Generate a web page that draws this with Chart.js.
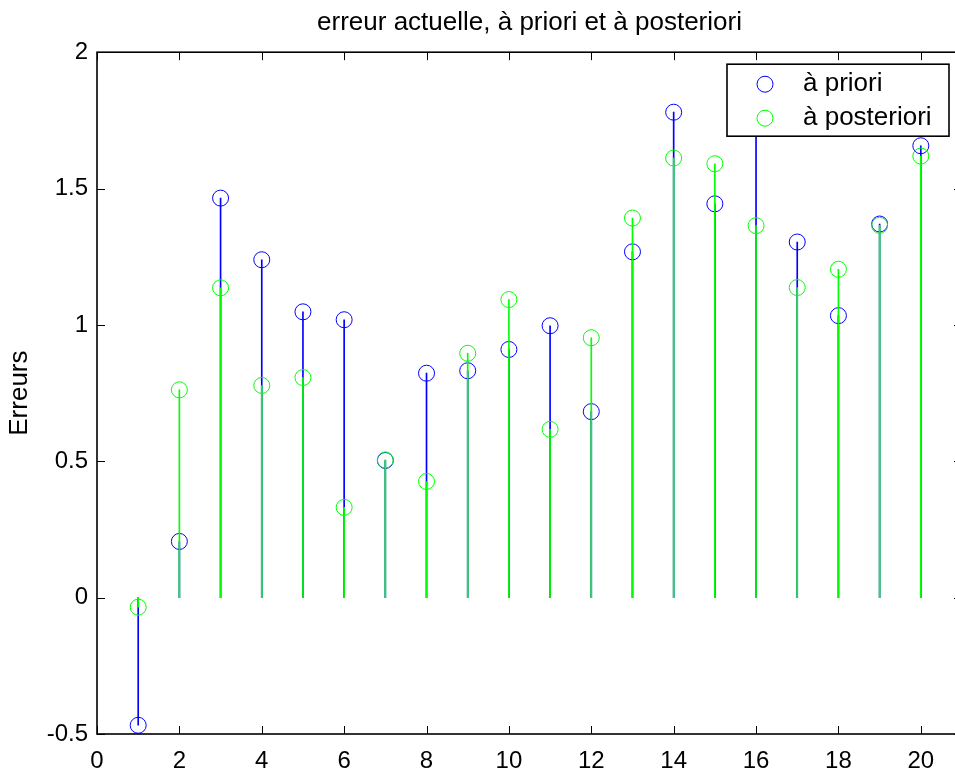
<!DOCTYPE html>
<html lang="fr">
<head>
<meta charset="utf-8">
<title>erreur actuelle, à priori et à posteriori</title>
<script src="https://cdn.jsdelivr.net/npm/chart.js@4.4.1/dist/chart.umd.min.js"></script>
<style>
    html, body { margin: 0; padding: 0; background: #fff; overflow: hidden; }
    canvas { display: block; }
</style>
</head>
<body>
<canvas id="stemChart" width="962" height="769"></canvas>
<script>
// Données
const iterations = [1, 2, 3, 4, 5, 6, 7, 8, 9, 10, 11, 12, 13, 14, 15, 16, 17, 18, 19, 20];
const erreursPriori = [-0.468, 0.206, 1.465, 1.239, 1.048, 1.019, 0.503, 0.823, 0.832, 0.910,
    0.997, 0.682, 1.268, 1.780, 1.444, 1.90, 1.304, 1.034, 1.370, 1.657];
const erreursPosteriori = [-0.035, 0.762, 1.136, 0.778, 0.807, 0.331, 0.505, 0.426, 0.896, 1.093,
    0.617, 0.953, 1.392, 1.612, 1.591, 1.364, 1.137, 1.204, 1.365, 1.619];
const xTicks = [0, 2, 4, 6, 8, 10, 12, 14, 16, 18, 20];
const yTicks = [-0.5, 0, 0.5, 1, 1.5, 2];

const titre = 'erreur actuelle, à priori et à posteriori';
const labelY = 'Erreurs';
const legendeLabels = ['à priori', 'à posteriori'];

const bleu = 'rgb(0, 0, 255)';
const vert = 'rgb(0, 255, 0)';
const police = '"Liberation Sans", Arial, Helvetica, sans-serif';

function points(values) {
    return iterations.map((x, i) => ({ x: x, y: values[i] }));
}

// Cadre, graduations intérieures et légende (par-dessus les données)
const cadrePlugin = {
    id: 'cadre',
    afterDatasetsDraw(chart) {
        const { ctx, chartArea: a, scales } = chart;
        ctx.save();
        ctx.strokeStyle = '#000';
        ctx.lineWidth = 1;
        ctx.beginPath();
        xTicks.forEach(v => {
            const px = Math.round(scales.x.getPixelForValue(v)) + 0.5;
            ctx.moveTo(px, a.bottom); ctx.lineTo(px, a.bottom - 8);
            ctx.moveTo(px, a.top); ctx.lineTo(px, a.top + 8);
        });
        yTicks.forEach(v => {
            const py = Math.round(scales.y.getPixelForValue(v)) + 0.5;
            ctx.moveTo(a.left, py); ctx.lineTo(a.left + 8, py);
            ctx.moveTo(a.right, py); ctx.lineTo(a.right - 8, py);
        });
        ctx.stroke();
        ctx.lineWidth = 1.6;
        ctx.strokeRect(a.left, a.top, a.right - a.left, a.bottom - a.top);

        // Légende
        const lx = a.right - 235, ly = a.top + 12, lw = 222, lh = 72;
        ctx.fillStyle = '#fff';
        ctx.fillRect(lx, ly, lw, lh);
        ctx.lineWidth = 1.6;
        ctx.strokeRect(lx, ly, lw, lh);
        const couleurs = [bleu, vert];
        ctx.font = '26px ' + police;
        ctx.textBaseline = 'middle';
        legendeLabels.forEach((txt, i) => {
            const cy = ly + 20 + i * 34;
            ctx.beginPath();
            ctx.strokeStyle = couleurs[i];
            ctx.lineWidth = 1;
            ctx.arc(lx + 38, cy, 8, 0, Math.PI * 2);
            ctx.stroke();
            ctx.fillStyle = '#000';
            ctx.fillText(txt, lx + 76, cy);
        });
        ctx.restore();
    }
};

new Chart(document.getElementById('stemChart'), {
    type: 'bar',
    data: {
        datasets: [
            {
                type: 'bar',
                label: 'tiges ' + legendeLabels[0],
                data: points(erreursPriori),
                backgroundColor: bleu,
                borderWidth: 0,
                barThickness: 1,
                grouped: false,
                order: 3
            },
            {
                type: 'scatter',
                label: legendeLabels[0],
                data: points(erreursPriori),
                borderColor: bleu,
                backgroundColor: 'rgba(0,0,0,0)',
                pointRadius: 8,
                pointBorderWidth: 1,
                order: 2
            },
            {
                type: 'bar',
                label: 'tiges ' + legendeLabels[1],
                data: points(erreursPosteriori),
                backgroundColor: vert,
                borderWidth: 0,
                barThickness: 1,
                grouped: false,
                order: 1
            },
            {
                type: 'scatter',
                label: legendeLabels[1],
                data: points(erreursPosteriori),
                borderColor: vert,
                backgroundColor: 'rgba(0,0,0,0)',
                pointRadius: 8,
                pointBorderWidth: 1,
                order: 0
            }
        ]
    },
    options: {
        responsive: false,
        animation: false,
        devicePixelRatio: 1,
        layout: { autoPadding: false, padding: 0 },
        plugins: {
            legend: { display: false },
            tooltip: { enabled: false },
            title: {
                display: true,
                fullSize: false,
                text: titre,
                color: '#000',
                font: { family: police, size: 26, weight: 'normal', lineHeight: 1.2 },
                padding: { top: 7, bottom: 14 }
            }
        },
        scales: {
            x: {
                type: 'linear',
                min: 0,
                max: 21,
                offset: false,
                grid: { display: false, drawTicks: false },
                border: { display: false },
                ticks: {
                    color: '#000',
                    padding: 13,
                    maxRotation: 0,
                    font: { family: police, size: 24 },
                    callback: v => String(v)
                },
                afterBuildTicks: s => { s.ticks = xTicks.map(v => ({ value: v })); },
                afterFit: s => { s.height = 35; }
            },
            y: {
                type: 'linear',
                min: -0.5,
                max: 2,
                grid: { display: false, drawTicks: false },
                border: { display: false },
                ticks: {
                    color: '#000',
                    padding: 9,
                    font: { family: police, size: 24 },
                    callback: v => String(v)
                },
                title: {
                    display: true,
                    text: labelY,
                    color: '#000',
                    font: { family: police, size: 26, lineHeight: 1.2 },
                    padding: { top: 4, bottom: 0 }
                },
                afterBuildTicks: s => { s.ticks = yTicks.map(v => ({ value: v })); },
                afterFit: s => { s.width = 97; }
            }
        }
    },
    plugins: [cadrePlugin]
});
</script>
</body>
</html>
